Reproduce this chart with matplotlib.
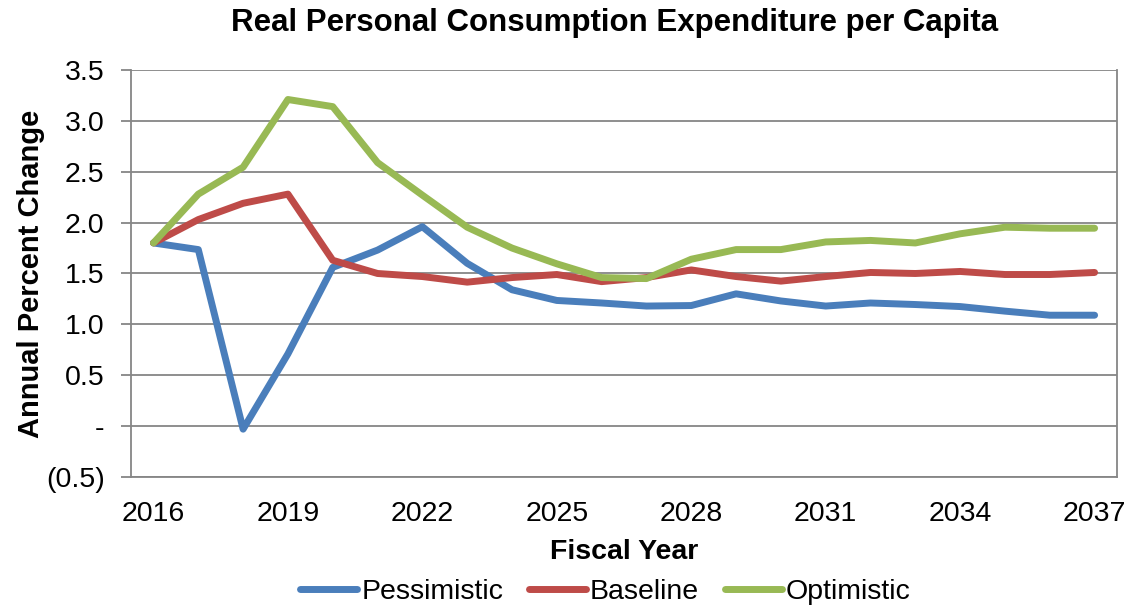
import matplotlib.pyplot as plt
from matplotlib.ticker import FixedLocator, FuncFormatter

plt.rcParams['font.family'] = ['Liberation Sans', 'DejaVu Sans']

years = list(range(2016, 2038))
pessimistic = [1.80, 1.735, -0.03, 0.71, 1.56, 1.73, 1.96, 1.60, 1.34, 1.235, 1.21,
               1.18, 1.185, 1.30, 1.23, 1.18, 1.21, 1.195, 1.175, 1.13, 1.09, 1.09]
baseline = [1.80, 2.03, 2.19, 2.28, 1.63, 1.50, 1.47, 1.415, 1.46, 1.49, 1.42,
            1.46, 1.535, 1.47, 1.425, 1.47, 1.51, 1.50, 1.52, 1.49, 1.49, 1.51]
optimistic = [1.80, 2.28, 2.545, 3.21, 3.14, 2.59, 2.27, 1.955, 1.75, 1.595, 1.46,
              1.45, 1.64, 1.735, 1.735, 1.81, 1.825, 1.80, 1.89, 1.955, 1.945, 1.945]
year_labels = [2016, 2019, 2022, 2025, 2028, 2031, 2034, 2037]
y_ticks = [-0.5, 0, 0.5, 1.0, 1.5, 2.0, 2.5, 3.0, 3.5]

grey = '#868686'

fig = plt.figure(figsize=(11.3, 6.05), dpi=100)
ax = fig.add_axes([0.116, 0.2116, 0.8725, 0.6727])

ax.plot(years, pessimistic, color='#4A7EBB', lw=5, label='Pessimistic', solid_capstyle='round')
ax.plot(years, baseline, color='#BE4B48', lw=5, label='Baseline', solid_capstyle='round')
ax.plot(years, optimistic, color='#98B954', lw=5, label='Optimistic', solid_capstyle='round')

ax.set_xlim(2015.5, 2037.5)
ax.set_ylim(-0.5, 3.5)


def fmt_pct(v, pos):
    if abs(v) < 1e-9:
        return '-'
    if v < 0:
        return '({:.1f})'.format(-v)
    return '{:.1f}'.format(v)


ax.yaxis.set_major_locator(FixedLocator(y_ticks))
ax.yaxis.set_major_formatter(FuncFormatter(fmt_pct))
ax.set_xticks(year_labels)
ax.set_xticklabels([str(y) for y in year_labels])

ax.grid(axis='y', color=grey, lw=1.3)
ax.set_axisbelow(True)
for side in ['left', 'bottom', 'right', 'top']:
    ax.spines[side].set_color(grey)
    ax.spines[side].set_linewidth(1.3)
ax.spines['top'].set_visible(False)

ax.tick_params(axis='y', direction='out', length=7, color=grey, width=1.3,
               labelsize=20.5, pad=12)
ax.tick_params(axis='x', length=0, labelsize=20.5, pad=17)

ax.set_title('Real Personal Consumption Expenditure per Capita',
             fontsize=22.5, fontweight='bold', pad=28, x=0.49)
ax.set_xlabel('Fiscal Year', fontsize=20.5, fontweight='bold', labelpad=9)
ax.set_ylabel('Annual Percent Change', fontsize=21, fontweight='bold', labelpad=1)

ax.legend(loc='upper center', bbox_to_anchor=(0.481, -0.222), ncol=3, frameon=False,
          fontsize=20.5, handlelength=2.0, handletextpad=0.15, columnspacing=0.9,
          borderaxespad=0)

fig.savefig('out.png', dpi=100)
